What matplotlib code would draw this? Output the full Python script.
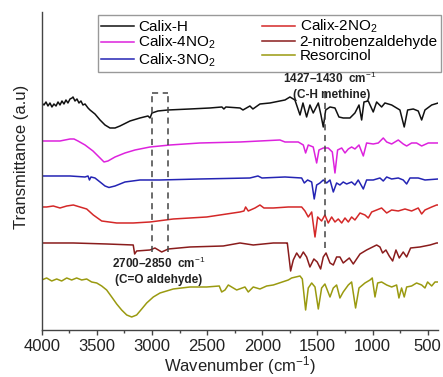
import matplotlib
matplotlib.use("Agg")
import matplotlib.pyplot as plt
from matplotlib.ticker import MultipleLocator

plt.rcParams['font.family'] = ['Liberation Sans', 'DejaVu Sans']
plt.rcParams['mathtext.fontset'] = 'custom'
plt.rcParams['mathtext.rm'] = 'Liberation Sans'
plt.rcParams['mathtext.it'] = 'Liberation Sans:italic'
plt.rcParams['mathtext.bf'] = 'Liberation Sans:bold'

# ---------------- data (wavenumber cm-1, offset transmittance a.u.) ----------------
calix_h_w = [4000, 3979, 3961, 3943, 3925, 3907, 3889, 3870, 3852, 3834, 3816, 3798, 3780, 3762,
             3743, 3725, 3716, 3698, 3680, 3662, 3644, 3626, 3607, 3580, 3562, 3517, 3471, 3426,
             3381, 3335, 3290, 3199, 3109, 3036, 3018, 3000, 2946, 2855, 2656, 2475, 2366, 2348,
             2330, 2202, 2175, 2112, 2085, 2021, 1930, 1840, 1794, 1749, 1704, 1658, 1631, 1598,
             1568, 1538, 1492, 1468, 1447, 1425, 1386, 1341, 1305, 1266, 1205, 1160, 1123, 1099,
             1078, 1039, 994, 963, 918, 888, 827, 752, 713, 682, 631, 586, 555, 525, 464, 405]
calix_h_t = [227, 225, 228, 224, 227, 223, 226, 224, 228, 225, 229, 226, 230, 227,
             231, 232, 233, 229, 231, 227, 229, 225, 226, 222, 220, 216, 210, 205,
             202, 202, 204, 209, 212, 214, 212, 217, 219, 220, 221, 222, 223, 221,
             223, 222, 220, 224, 221, 226, 227, 229, 230, 233, 230, 215, 227, 213,
             225, 217, 227, 215, 203, 220, 223, 222, 213, 212, 212, 217, 225, 210,
             228, 229, 218, 228, 223, 227, 225, 220, 203, 220, 221, 219, 210, 220, 225, 227]

calix4_w = [4000, 3834, 3743, 3707, 3671, 3607, 3535, 3471, 3435, 3399, 3335, 3245, 3154, 3018,
            2837, 2565, 2202, 1840, 1794, 1674, 1628, 1607, 1583, 1538, 1507, 1486, 1447, 1402,
            1365, 1341, 1317, 1280, 1250, 1220, 1190, 1160, 1123, 1084, 1054, 994, 948, 903,
            872, 827, 767, 722, 691, 646, 601, 555, 495, 405]
calix4_t = [189, 189, 191, 191, 189, 185, 179, 172, 168, 169, 173, 177, 180, 183,
            185, 187, 188, 190, 188, 188, 185, 177, 185, 183, 167, 180, 182, 182,
            178, 157, 180, 182, 177, 181, 183, 181, 185, 174, 187, 186, 187, 192,
            188, 186, 190, 186, 184, 187, 187, 184, 187, 187]

calix3_w = [4000, 3743, 3607, 3580, 3567, 3553, 3517, 3471, 3426, 3390, 3335, 3245, 3109, 2927,
            2565, 2112, 2039, 2003, 1794, 1643, 1619, 1589, 1552, 1529, 1507, 1477, 1447, 1416,
            1386, 1356, 1326, 1296, 1266, 1235, 1190, 1160, 1130, 1084, 1054, 994, 933, 903,
            872, 827, 767, 722, 691, 661, 586, 525, 405]
calix3_t = [154, 154, 153, 154, 150, 153, 152, 148, 144, 142.5, 144, 148, 150, 150,
            151, 152, 154, 152, 153, 152, 147, 150, 148, 131, 145, 147, 150, 147,
            150, 138, 147, 145, 148, 146, 148, 145, 150, 141, 150, 150, 152, 149,
            153, 151, 152, 150, 146, 152, 152, 150, 151]

calix2_w = [4000, 3955, 3895, 3834, 3773, 3713, 3653, 3592, 3532, 3456, 3320, 3170, 3018, 2807,
            2504, 2202, 2166, 2151, 2127, 2066, 2021, 1985, 1900, 1764, 1643, 1613, 1583, 1552,
            1522, 1498, 1462, 1432, 1402, 1371, 1341, 1311, 1280, 1250, 1220, 1190, 1160, 1114,
            1069, 1039, 1008, 963, 918, 872, 827, 767, 706, 646, 586, 555, 525, 464, 419, 405]
calix2_t = [123, 123, 124, 122, 124, 125, 123, 121, 115, 109, 107, 107, 108, 111,
            113, 118, 119, 123, 119, 122, 125, 122, 122, 123, 123, 119, 113, 118,
            93, 113, 109, 115, 107, 113, 108, 111, 107, 112, 108, 113, 110, 117,
            115, 112, 118, 120, 122, 117, 120, 119, 121, 119, 122, 116, 120, 123, 125, 125]

nitro_w = [4000, 3713, 3411, 3170, 3157, 3139, 3018, 2973, 2912, 2852, 2656, 2354, 2202, 2142,
           2082, 1900, 1779, 1773, 1743, 1719, 1688, 1658, 1628, 1598, 1568, 1532, 1502, 1471,
           1447, 1422, 1386, 1356, 1326, 1296, 1266, 1211, 1175, 1114, 1054, 963, 933, 909,
           879, 849, 818, 788, 758, 722, 691, 655, 570, 479, 419, 405]
nitro_t = [87, 87, 86, 85, 76, 79, 80, 82, 78, 81, 83, 84, 87, 86,
           85, 87, 87, 87, 59, 70, 77, 72, 78, 73, 63, 71, 68, 61,
           73, 77, 67, 65, 73, 73, 67, 72, 66, 76, 80, 85, 83, 77,
           80, 74, 69, 80, 72, 78, 73, 82, 83, 85, 87, 87]

resor_w = [4000, 3955, 3909, 3864, 3819, 3773, 3728, 3683, 3637, 3592, 3547, 3501, 3456, 3411,
           3365, 3320, 3275, 3229, 3184, 3139, 3093, 3048, 2988, 2927, 2807, 2656, 2504, 2390,
           2368, 2338, 2308, 2278, 2232, 2157, 2127, 2082, 2021, 1960, 1900, 1764, 1734, 1658,
           1637, 1607, 1583, 1552, 1522, 1492, 1462, 1432, 1386, 1356, 1326, 1296, 1266, 1220,
           1190, 1154, 1123, 1069, 1023, 1003, 978, 954, 918, 872, 827, 782, 761, 737,
           713, 691, 646, 601, 555, 525, 501, 464, 434, 405]
resor_t = [50, 52, 49, 51, 49, 52, 50, 52, 50, 51, 48, 47, 44, 40,
           33, 26, 20, 15, 13, 15, 21, 27, 33, 37, 41, 43, 43, 44,
           38, 40, 45, 43, 40, 43, 38, 43, 41, 44, 45, 50, 52, 54,
           51, 20, 42, 47, 43, 21, 42, 46, 33, 42, 45, 32, 38, 45,
           48, 22, 42, 47, 50, 52, 33, 47, 48, 45, 43, 45, 32, 42,
           33, 43, 44, 47, 45, 42, 48, 44, 48, 48]

labels = ['Calix-H', 'Calix-4NO$_2$', 'Calix-3NO$_2$', 'Calix-2NO$_2$',
          '2-nitrobenzaldehyde', 'Resorcinol']
colors = ['#111111', '#dd22dd', '#2424b4', '#d42828', '#8a1c1c', '#9a9a10']

xticks = [4000, 3500, 3000, 2500, 2000, 1500, 1000, 500]

# ---------------- figure ----------------
fig = plt.figure(figsize=(4.43, 3.77), dpi=100)
ax = fig.add_axes([0.0941, 0.1247, 0.8953, 0.8435])

series = [(calix_h_w, calix_h_t), (calix4_w, calix4_t), (calix3_w, calix3_t),
          (calix2_w, calix2_t), (nitro_w, nitro_t), (resor_w, resor_t)]
handles = []
for (w, t), lab, c in zip(series, labels, colors):
    h, = ax.plot(w, t, color=c, lw=1.1, label=lab)
    handles.append(h)

ax.set_xlim(4000, 404)
ax.set_ylim(0, 318)

# dashed annotation box and line
dk = '#444444'
ax.plot([3000, 3000], [78, 237], ls=(0, (4, 3)), color=dk, lw=1.1)
ax.plot([2855, 2855], [78, 237], ls=(0, (4, 3)), color=dk, lw=1.1)
ax.plot([3000, 2855], [237, 237], ls=(0, (4, 3)), color=dk, lw=1.1)
ax.plot([1430, 1430], [82, 238], ls=(0, (4, 3)), color=dk, lw=1.1)

ax.text(1386, 252, '1427\u20131430  cm$^{-1}$', ha='center', va='center',
        fontsize=8.5, fontweight='bold', color='#222222')
ax.text(1368, 235, '(C-H methine)', ha='center', va='center',
        fontsize=8.5, fontweight='bold', color='#222222')
ax.text(2942, 67, '2700\u20132850  cm$^{-1}$', ha='center', va='center',
        fontsize=8.5, fontweight='bold', color='#222222')
ax.text(2942, 50, '(C=O aldehyde)', ha='center', va='center',
        fontsize=8.5, fontweight='bold', color='#222222')

# axes styling
for s in ['top', 'right']:
    ax.spines[s].set_visible(False)
for s in ['left', 'bottom']:
    ax.spines[s].set_color('#444444')
    ax.spines[s].set_linewidth(1.0)
ax.set_yticks([])
ax.set_xticks(xticks)
ax.set_xticklabels([str(v) for v in xticks])
ax.xaxis.set_minor_locator(MultipleLocator(250))
ax.tick_params(axis='x', which='major', direction='out', length=3.5, width=1.0,
               color='#444444', labelsize=12, labelcolor='#222222', pad=3)
ax.tick_params(axis='x', which='minor', direction='out', length=2, width=1.0,
               color='#444444')
ax.set_xlabel('Wavenumber (cm$^{-1}$)', fontsize=12, color='#222222', labelpad=0)
ax.set_ylabel('Transmittance (a.u)', fontsize=12, color='#222222')
ax.yaxis.set_label_coords(-0.032, 0.545)

leg = ax.legend(handles, labels, ncol=2,
                loc='upper left', bbox_to_anchor=(0.142, 0.9906), borderaxespad=0,
                fontsize=11, frameon=True, fancybox=False, framealpha=1,
                edgecolor='#999999', handlelength=2.15, handletextpad=0.3,
                columnspacing=3.0, labelspacing=0.0, borderpad=0.2)
leg.get_frame().set_linewidth(1.0)
leg.set_zorder(1)

fig.savefig('out.png', dpi=100)
